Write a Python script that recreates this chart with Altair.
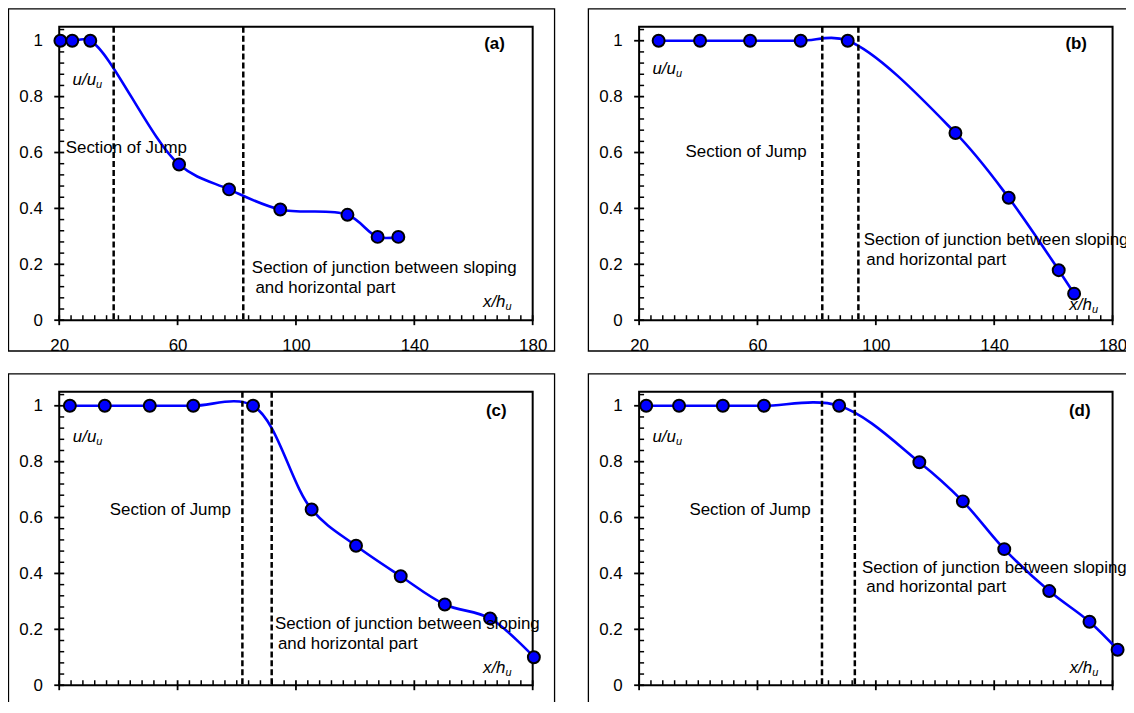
import altair as alt
import pandas as pd

# ---------------- data ----------------
A_X = [20.4, 24.4, 30.5, 60.5, 77.4, 94.7, 117.4, 127.6, 134.6]
A_Y = [1.0, 1.0, 1.0, 0.557, 0.468, 0.396, 0.377, 0.298, 0.298]
A_JUMP = [38.4, 82.2]

B_X = [26.6, 40.6, 57.5, 74.6, 90.5, 126.9, 144.9, 161.8, 167.0]
B_Y = [1.0, 1.0, 1.0, 1.0, 1.0, 0.670, 0.438, 0.179, 0.095]
B_JUMP = [81.9, 94.1]

C_X = [23.6, 35.4, 50.6, 65.3, 85.5, 105.3, 120.3, 135.4, 150.3, 165.6, 180.4]
C_Y = [1.0, 1.0, 1.0, 1.0, 1.0, 0.629, 0.499, 0.390, 0.289, 0.239, 0.100]
C_JUMP = [81.9, 91.8]

D_X = [22.4, 33.5, 48.3, 62.2, 87.6, 114.7, 129.4, 143.4, 158.6, 172.2, 181.7]
D_Y = [1.0, 1.0, 1.0, 1.0, 1.0, 0.798, 0.658, 0.487, 0.337, 0.227, 0.127]
D_JUMP = [81.8, 92.9]

X_TICKS = [20, 60, 100, 140, 180]
Y_TICKS = [0, 0.2, 0.4, 0.6, 0.8, 1.0]
X_MINOR = [v for v in range(20, 181, 4) if v not in X_TICKS]
Y_MINOR = [round(i * 0.04, 2) for i in range(27) if i % 5 != 0]

TEXT_JUMP = "Section of Jump"
TEXT_JUNC1 = "Section of junction between sloping"
TEXT_JUNC2 = "and horizontal part"

# annotation anchor points (data units)
ANN = {
    "a": dict(jump=(22.2, 0.615), j1=(85.1, 0.186), j2=(86.3, 0.114),
              uu=(24.5, 0.86), xh=(163.2, 0.065), tag=(167.1, 0.988)),
    "b": dict(jump=(35.7, 0.601), j1=(95.9, 0.288), j2=(96.8, 0.217),
              uu=(24.5, 0.899), xh=(165.4, 0.054), tag=(167.7, 0.988)),
    "c": dict(jump=(37.1, 0.628), j1=(92.9, 0.219), j2=(93.9, 0.148),
              uu=(24.6, 0.887), xh=(163.2, 0.062), tag=(167.7, 0.98)),
    "d": dict(jump=(37.0, 0.628), j1=(95.3, 0.42), j2=(96.8, 0.35),
              uu=(24.5, 0.887), xh=(165.5, 0.062), tag=(168.9, 0.98)),
}

W, H = 476, 295
FONT = "Liberation Sans"
BLUE = "#0000FF"

xscale = alt.Scale(domain=[20, 180], nice=False, zero=False)
yscale = alt.Scale(domain=[0, 1.05], nice=False, zero=False)


def label_axis(orient, values, pad, fmt=None):
    kw = dict(values=values, ticks=False, tickSize=0, domain=False, grid=False,
              labelFont=FONT, labelFontSize=17, labelColor="black",
              labelPadding=pad, title=None, orient=orient, labelFlush=False)
    if fmt:
        kw["format"] = fmt
    return alt.Axis(**kw)


XAX = label_axis("bottom", X_TICKS, 17)
YAX = label_axis("left", Y_TICKS, 17, ".1~f")


def X(field="x"):
    return alt.X(field + ":Q", scale=xscale, axis=XAX)


def Y(field="y"):
    return alt.Y(field + ":Q", scale=yscale, axis=YAX)


def txt(pt, s, size=17, style="normal", weight="normal", align="left",
        dx=0, dy=0):
    df = pd.DataFrame({"x": [pt[0]], "y": [pt[1]], "t": [s]})
    return alt.Chart(df).mark_text(
        font=FONT, fontSize=size, fontStyle=style, fontWeight=weight,
        align=align, baseline="middle", dx=dx, dy=dy, color="black"
    ).encode(x=X(), y=Y(), text="t:N")


def xticks(values, y1, y2, width):
    return alt.Chart(pd.DataFrame({"x": values})).mark_rule(
        color="black", strokeWidth=width
    ).encode(x=X(), y=alt.value(y1), y2=alt.value(y2))


def yticks(values, x1, x2, width):
    return alt.Chart(pd.DataFrame({"y": values})).mark_rule(
        color="black", strokeWidth=width
    ).encode(y=Y(), x=alt.value(x1), x2=alt.value(x2))


def panel(xs, ys, jumps, key):
    df = pd.DataFrame({"x": xs, "y": ys})
    jd = pd.DataFrame({"x": jumps})
    a = ANN[key]

    box = alt.Chart(pd.DataFrame({"k": [0]})).mark_rect(
        fillOpacity=0, stroke="black", strokeWidth=1.3
    ).encode(x=alt.value(-51), x2=alt.value(W + 22),
             y=alt.value(-18), y2=alt.value(H + 31))

    ticks = [
        xticks(X_MINOR, H - 5, H, 1.5),
        xticks(X_TICKS, H - 5, H + 5, 1.8),
        yticks(Y_MINOR, 0, 5, 1.5),
        yticks(Y_TICKS, -5, 5, 1.8),
    ]

    rules = alt.Chart(jd).mark_rule(
        color="black", strokeWidth=2.5, strokeDash=[6, 3]
    ).encode(x=X())

    line = alt.Chart(df).mark_line(
        color=BLUE, strokeWidth=2.6, interpolate="catmull-rom", clip=False
    ).encode(x=X(), y=Y())

    pts = alt.Chart(df).mark_point(
        filled=True, shape="circle", size=144, fill=BLUE, stroke="black",
        strokeWidth=2, opacity=1, clip=False
    ).encode(x=X(), y=Y())

    texts = [
        txt(a["jump"], TEXT_JUMP),
        txt(a["j1"], TEXT_JUNC1),
        txt(a["j2"], TEXT_JUNC2),
        txt(a["uu"], "u/u", style="italic"),
        txt(a["uu"], "u", size=11, style="italic", dx=23.6, dy=5),
        txt(a["xh"], "x/h", style="italic"),
        txt(a["xh"], "u", size=11, style="italic", dx=22.7, dy=5),
        txt(a["tag"], "(" + key + ")", weight="bold", align="center"),
    ]

    return alt.layer(line, *ticks, rules, pts, *texts, box).properties(
        width=W, height=H
    )


pa = panel(A_X, A_Y, A_JUMP, "a")
pb = panel(B_X, B_Y, B_JUMP, "b")
pc = panel(C_X, C_Y, C_JUMP, "c")
pd_ = panel(D_X, D_Y, D_JUMP, "d")

# negative padding crops the page like the reference picture
chart = alt.vconcat(
    alt.hconcat(pa, pb, spacing=30),
    alt.hconcat(pc, pd_, spacing=30),
    spacing=18,
).properties(
    padding={"left": -1.5, "top": -3, "right": -10.5, "bottom": -19},
    background="white",
).configure_view(stroke="black", strokeWidth=2)

chart.save("out.html", embed_options={"renderer": "svg", "actions": False})
